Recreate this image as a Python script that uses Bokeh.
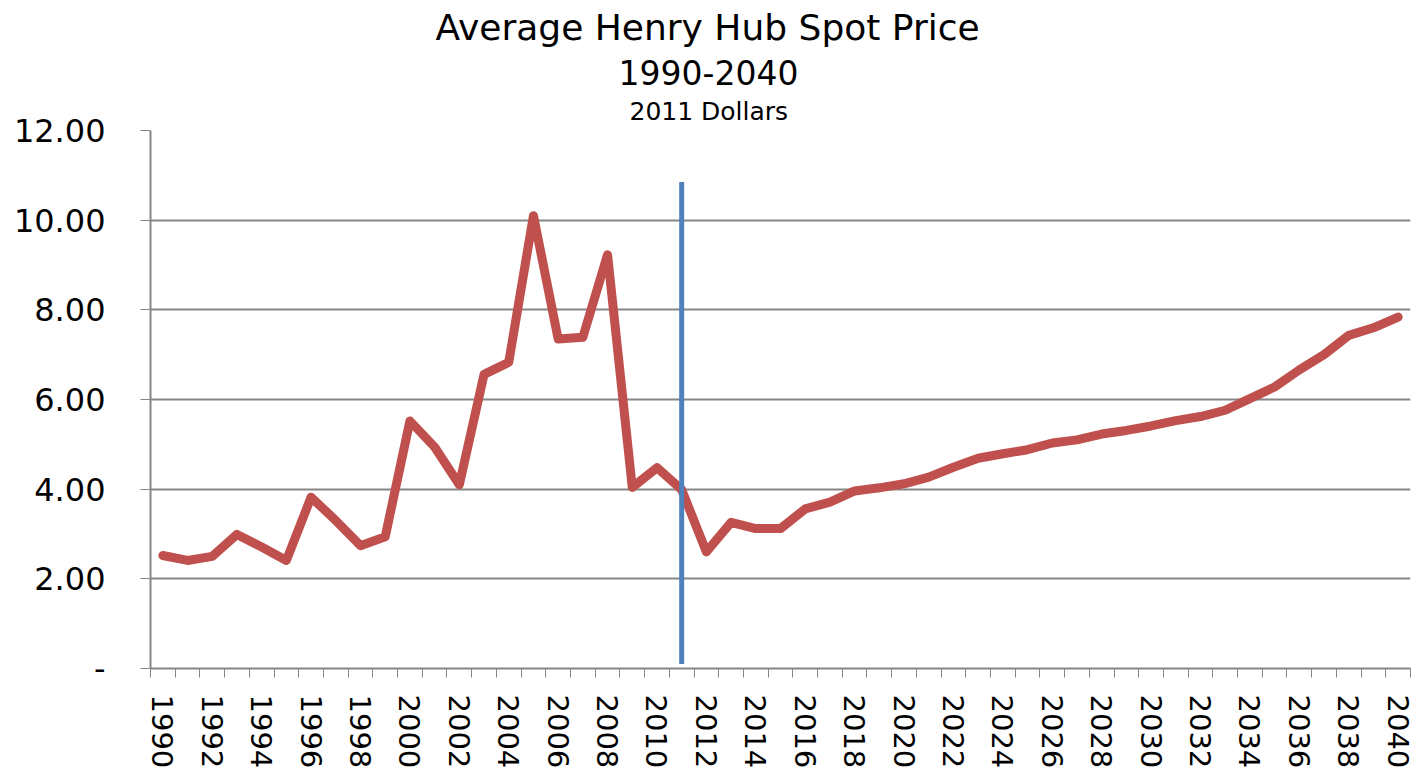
from bokeh.plotting import figure
from bokeh.models import Title, FixedTicker, ColumnDataSource
from bokeh.embed import file_html
from bokeh.resources import INLINE

years = list(range(1990, 2041))
prices = [2.52, 2.41, 2.50, 2.99, 2.71, 2.41, 3.82, 3.30, 2.74, 2.94,
          5.52, 4.94, 4.10, 6.56, 6.83, 10.10, 7.35, 7.39, 9.23, 4.04,
          4.48, 3.99, 2.60, 3.26, 3.12, 3.12, 3.56, 3.71, 3.96, 4.03,
          4.12, 4.27, 4.49, 4.69, 4.79, 4.88, 5.03, 5.10, 5.23, 5.31,
          5.41, 5.53, 5.62, 5.76, 6.02, 6.28, 6.66, 7.00, 7.43, 7.60, 7.84]
x_tick_years = list(range(1990, 2041, 2))
y_ticks = [0, 2, 4, 6, 8, 10, 12]
y_tick_labels = ["-", "2.00", "4.00", "6.00", "8.00", "10.00", "12.00"]
forecast_year = 2011
marker_low, marker_high = 0.1, 10.85

FONT = "DejaVu Sans"
GRAY = "#868686"

p = figure(width=1414, height=776, output_backend="svg", toolbar_location=None,
           x_range=(1989.5, 2040.5), y_range=(0, 12),
           min_border_left=150, min_border_right=4, min_border_top=0, min_border_bottom=108)
p.outline_line_color = None
p.background_fill_color = "white"
p.border_fill_color = "white"

p.add_layout(Title(text="2011 Dollars", align="left", text_font=FONT, text_font_size="25px",
                   text_font_style="normal", text_color="black", standoff=9,
                   offset=479), "above")
p.add_layout(Title(text="1990-2040", align="left", text_font=FONT, text_font_size="33px",
                   text_font_style="normal", text_color="black", standoff=11,
                   offset=468), "above")
p.add_layout(Title(text="Average Henry Hub Spot Price", align="left", text_font=FONT,
                   text_font_size="36px", text_font_style="normal", text_color="black",
                   standoff=9, offset=285), "above")

src = ColumnDataSource(dict(year=years, price=prices))
p.line("year", "price", source=src, line_color="#C0504D", line_width=9,
       line_join="round", line_cap="round")
p.segment(x0=[forecast_year], y0=[marker_low], x1=[forecast_year], y1=[marker_high],
          line_color="#4F81BD", line_width=5)

# x axis
xt = FixedTicker(ticks=x_tick_years, minor_ticks=[y - 0.5 for y in years] + [years[-1] + 0.5])
p.xaxis.ticker = xt
p.xaxis.major_label_orientation = "vertical"
p.xaxis.major_tick_out = 0
p.xaxis.major_tick_in = 0
p.xaxis.minor_tick_out = 9
p.xaxis.minor_tick_in = 0
p.xaxis.minor_tick_line_color = GRAY
p.xaxis.minor_tick_line_width = 1
p.xaxis.axis_line_color = GRAY
p.xaxis.axis_line_width = 2
p.xaxis.major_label_text_font = FONT
p.xaxis.major_label_text_font_size = "29px"
p.xaxis.major_label_text_color = "black"
p.xaxis.major_label_standoff = 17

# y axis
p.yaxis.ticker = FixedTicker(ticks=y_ticks, minor_ticks=[])
p.yaxis.major_label_overrides = {t: lab for t, lab in zip(y_ticks, y_tick_labels)}
p.yaxis.major_tick_out = 10
p.yaxis.major_tick_in = 0
p.yaxis.major_tick_line_color = GRAY
p.yaxis.major_tick_line_width = 1
p.yaxis.axis_line_color = GRAY
p.yaxis.axis_line_width = 2
p.yaxis.major_label_text_font = FONT
p.yaxis.major_label_text_font_size = "32px"
p.yaxis.major_label_text_color = "black"
p.yaxis.major_label_standoff = 35

p.xgrid.grid_line_color = None
p.ygrid.grid_line_color = GRAY
p.ygrid.grid_line_width = 2

open("out.html", "w").write(file_html(p, INLINE))
